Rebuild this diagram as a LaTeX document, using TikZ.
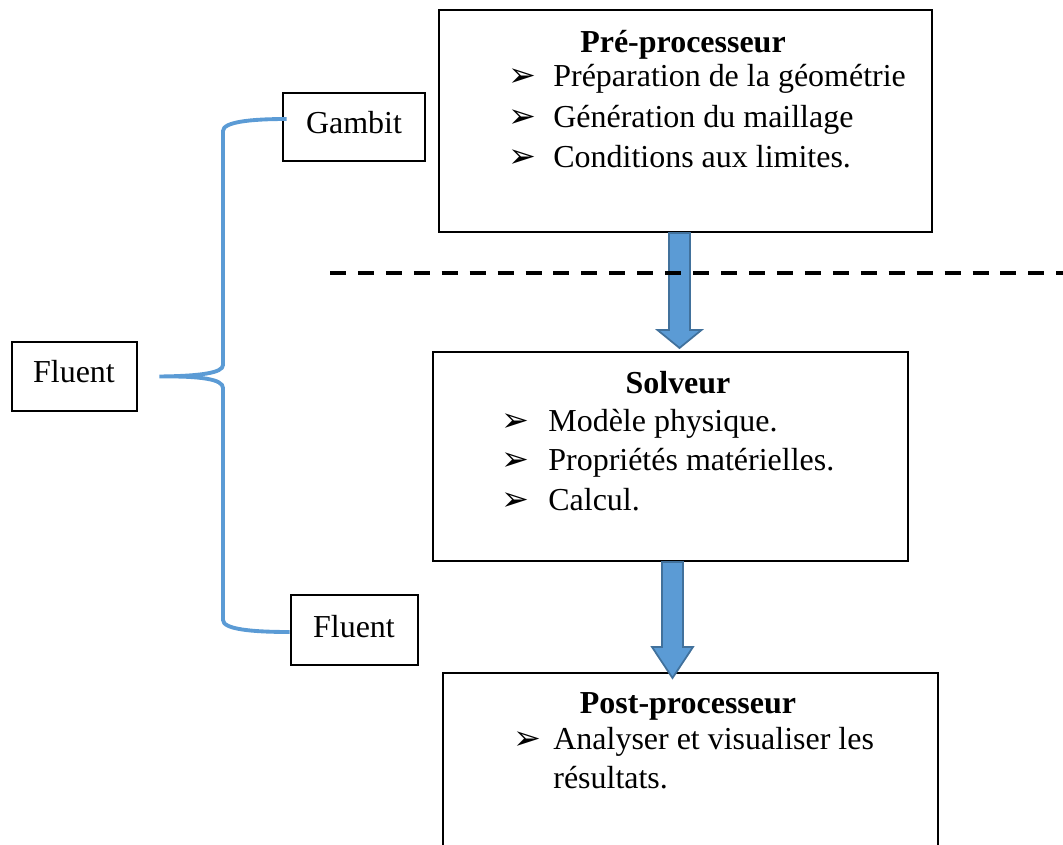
\documentclass[tikz,border=0pt]{standalone}
\usepackage{fontspec}
\setmainfont{Liberation Serif}
\newfontfamily\dejavu{DejaVu Sans}
\usetikzlibrary{fit,calc}

\definecolor{bleu}{HTML}{5B9BD5}
\definecolor{bleufonce}{HTML}{41719C}

\tikzset{
	boite/.style={draw, line width=1.6pt, inner sep=0pt},
	texte/.style={inner sep=0pt, anchor=base, font=\fontsize{18.2}{22}\selectfont},
	titre/.style={inner sep=0pt, anchor=base, font=\fontsize{18.2}{22}\selectfont\bfseries},
	ligne/.style={inner sep=0pt, anchor=base west, font=\fontsize{18.2}{22}\selectfont},
	puce/.style={inner sep=0pt, anchor=base west, font=\dejavu\fontsize{19}{22}\selectfont},
	fleche/.style={fill=bleu, draw=bleufonce, line width=1pt, line join=miter},
	accolade/.style={draw=bleu, line width=2.2pt},
	pointille/.style={line width=2.3pt, dash pattern=on 9.1pt off 6.8pt}
}

\begin{document}
\begin{tikzpicture}[x=0.02cm, y=-0.02cm]
	\useasboundingbox (0,0) rectangle (1063,845);
	\clip (0,0) rectangle (1063,845);

	% boites
	\node[boite, fit={(439,10) (932,232)}] (pre) {};
	\node[boite, fit={(433,352) (908,561)}] (sol) {};
	\node[boite, fit={(443,673) (938,870)}] (post) {};
	\node[boite, fit={(283,93) (425,161)}] (gambit) {};
	\node[boite, fit={(291,595) (418,665)}] (fluentb) {};
	\node[boite, fit={(12,342) (137,411)}] (fluentg) {};

	% textes
	\node[texte] (tgambit) at (354,133) {Gambit};
	\node[texte] (tfluentb) at (354,637) {Fluent};
	\node[texte] (tfluentg) at (74,382) {Fluent};

	\node[titre] (tpre) at (683,52) {Pré-processeur};
	\foreach \y/\t [count=\i] in {87/Préparation de la géométrie, 127/Génération du maillage, 167/Conditions aux limites.}
	{
		\node[puce] (ppre\i) at (508,\y) {➢};
		\node[ligne] (lpre\i) at (553,\y) {\t};
	}

	\node[titre] (tsol) at (678,393) {Solveur};
	\foreach \y/\t [count=\i] in {431/Modèle physique., 470/Propriétés matérielles., 510/Calcul.}
	{
		\node[puce] (psol\i) at (501,\y) {➢};
		\node[ligne] (lsol\i) at (548,\y) {\t};
	}

	\node[titre] (tpost) at (688,713) {Post-processeur};
	\node[puce] (ppost1) at (513,749) {➢};
	\node[ligne] (lpost1) at (553,749) {Analyser et visualiser les};
	\node[ligne] (lpost2) at (553,788) {résultats.};

	% accolade
	\coordinate (pointe) at ($(fluentg.east)+(21,0)$);
	\draw[accolade] ($(gambit.west)+(5,-8)$) .. controls (250,119) and (223,122) .. (223,131)
		-- (223,365) .. controls (223,373) and (200,376) .. (pointe)
		.. controls (200,376) and (223,379) .. (223,388)
		-- (223,620) .. controls (223,629) and (250,632) .. ($(fluentb.west)+(0,2)$);

	% fleches
	\coordinate (f1) at (679.5,233);
	\coordinate (f2) at (672.5,562);
	\draw[fleche] ($(f1)+(-10.5,0)$) -- ($(f1)+(10.5,0)$) -- ($(f1)+(10.5,97)$) -- ($(f1)+(22,97)$)
		-- ($(f1)+(0,115)$) -- ($(f1)+(-22,97)$) -- ($(f1)+(-10.5,97)$) -- cycle;
	\draw[fleche] ($(f2)+(-10.5,0)$) -- ($(f2)+(10.5,0)$) -- ($(f2)+(10.5,85)$) -- ($(f2)+(20.5,85)$)
		-- ($(f2)+(0,116)$) -- ($(f2)+(-20.5,85)$) -- ($(f2)+(-10.5,85)$) -- cycle;

	% separation
	\coordinate (sepg) at (330,273);
	\coordinate (sepd) at (1063,273);
	\draw[pointille] (sepg) -- (sepd);
\end{tikzpicture}
\end{document}
